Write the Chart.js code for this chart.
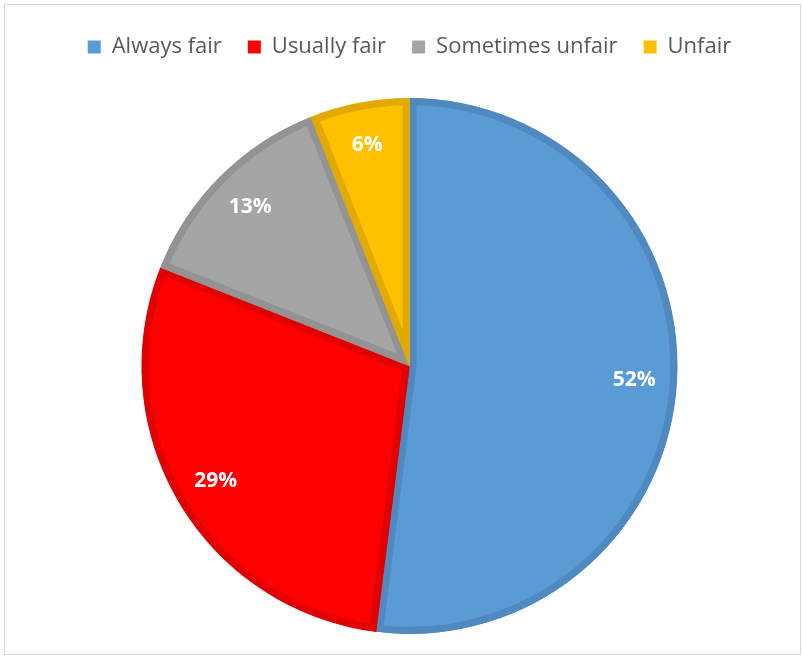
<!DOCTYPE html>
<html>
<head>
<meta charset="utf-8">
<script src="https://cdn.jsdelivr.net/npm/chart.js@4"></script>
<style>
  html, body { margin: 0; padding: 0; background: #fff; }
  #frame {
    position: absolute; left: 4px; top: 4px; width: 797px; height: 651px;
    border: 1px solid #d9d9d9; box-sizing: border-box;
  }
  #wrap { position: absolute; left: 0; top: 0; width: 803px; height: 657px; }
</style>
</head>
<body>
<div id="frame"></div>
<div id="wrap"><canvas id="pie"></canvas></div>
<script>
// answers from the survey
const categories = ['Always fair', 'Usually fair', 'Sometimes unfair', 'Unfair'];
const percents = [52, 29, 13, 6];
const fillColors = ['#5b9bd5', '#ff0000', '#a5a5a5', '#ffc000'];
const edgeColors = ['#5089bf', '#e00000', '#939393', '#e2aa00'];

// draw the % labels inside each slice
const sliceLabels = {
    id: 'sliceLabels',
    afterDatasetsDraw(chart) {
        const ctx = chart.ctx;
        const meta = chart.getDatasetMeta(0);
        ctx.save();
        ctx.font = 'bold 21px "Open Sans", sans-serif';
        ctx.fillStyle = '#ffffff';
        ctx.textAlign = 'center';
        ctx.textBaseline = 'middle';
        meta.data.forEach((arc, i) => {
            const p = arc.getProps(['x', 'y', 'startAngle', 'endAngle', 'outerRadius'], true);
            const mid = (p.startAngle + p.endAngle) / 2;
            const r = p.outerRadius * 0.84;
            ctx.fillText(percents[i] + '%', p.x + Math.cos(mid) * r, p.y + Math.sin(mid) * r);
        });
        ctx.restore();
    }
};

// extra space under the legend
const legendGap = {
    id: 'legendGap',
    beforeInit(chart) {
        const origFit = chart.legend.fit;
        chart.legend.fit = function () {
            origFit.call(this);
            this.height += 30;
        };
    }
};

const ctx = document.getElementById('pie').getContext('2d');
const myChart = new Chart(ctx, {
    type: 'pie',
    data: {
        labels: categories,
        datasets: [{
            data: percents,
            backgroundColor: fillColors,
            borderColor: edgeColors,
            borderWidth: 7,
            borderAlign: 'inner'
        }]
    },
    options: {
        responsive: true,
        maintainAspectRatio: false,
        animation: false,
        layout: {
            padding: { top: 10, bottom: 23, left: 16, right: 0 }
        },
        plugins: {
            tooltip: { enabled: false },
            legend: {
                position: 'top',
                labels: {
                    color: '#595959',
                    font: { family: '"Open Sans", sans-serif', size: 22 },
                    boxWidth: 13,
                    boxHeight: 13,
                    padding: 26,
                    generateLabels: (chart) => {
                        const items = Chart.overrides.pie.plugins.legend.labels.generateLabels(chart);
                        items.forEach((it) => { it.lineWidth = 0; });
                        return items;
                    }
                }
            }
        }
    },
    plugins: [sliceLabels, legendGap]
});
</script>
</body>
</html>
